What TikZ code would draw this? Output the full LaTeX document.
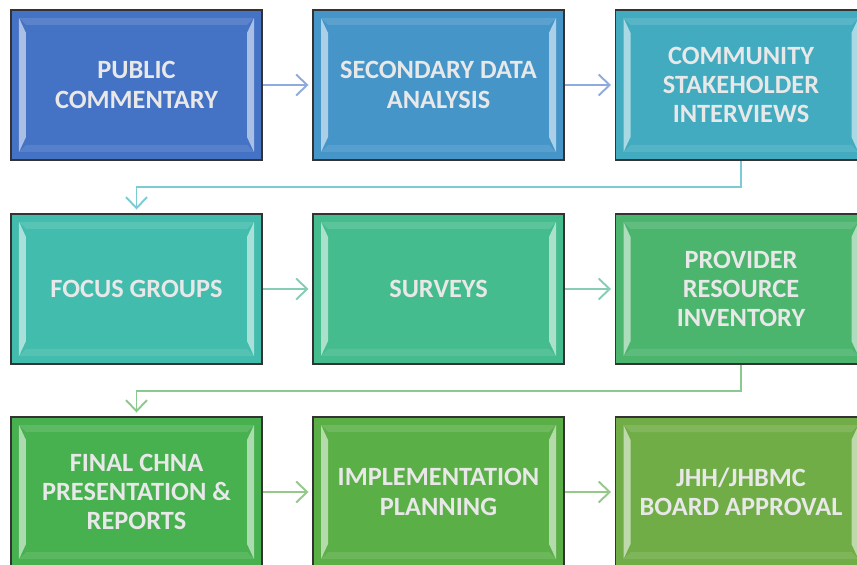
\documentclass[tikz,border=0pt]{standalone}
\usepackage{fontspec}
\setmainfont{Carlito}
\usepackage{tikz}
\usetikzlibrary{arrows.meta,calc}

\definecolor{cA}{HTML}{4472C4}
\definecolor{cB}{HTML}{4595C9}
\definecolor{cC}{HTML}{42ABC0}
\definecolor{cD}{HTML}{42BCAC}
\definecolor{cE}{HTML}{45BC8E}
\definecolor{cF}{HTML}{4BB56E}
\definecolor{cG}{HTML}{47B04F}
\definecolor{cH}{HTML}{5BAF47}
\definecolor{cI}{HTML}{70AD47}
\definecolor{labelgrey}{HTML}{E8E8E8}
\definecolor{lineA}{HTML}{8FAADC}
\definecolor{lineB}{HTML}{7CCBD2}
\definecolor{lineC}{HTML}{86CDB3}
\definecolor{lineD}{HTML}{8CC98E}
\definecolor{lineE}{HTML}{94C98A}

\tikzset{
  bevel/.style={path picture={
    \fill[white,opacity=0.55] ($(path picture bounding box.north west)+(0.16,-0.16)$) -- ++(0.14,-0.3)
      -- ($(path picture bounding box.south west)+(0.30,0.46)$) -- ++(-0.14,-0.3) -- cycle;
    \fill[white,opacity=0.55] ($(path picture bounding box.north east)+(-0.16,-0.16)$) -- ++(-0.14,-0.3)
      -- ($(path picture bounding box.south east)+(-0.30,0.46)$) -- ++(0.14,-0.3) -- cycle;
    \fill[white,opacity=0.12] ($(path picture bounding box.north west)+(0.16,-0.16)$) -- ++(0.14,-0.14)
      -- ($(path picture bounding box.north east)+(-0.30,-0.30)$) -- ++(0.14,0.14) -- cycle;
    \fill[white,opacity=0.1] ($(path picture bounding box.south west)+(0.16,0.16)$) -- ++(0.14,0.14)
      -- ($(path picture bounding box.south east)+(-0.30,0.30)$) -- ++(0.14,-0.14) -- cycle;
  }},
  stage/.style={shape=rectangle,draw=black!80,line width=1.1pt,minimum width=5.02cm,minimum height=3cm,
    inner sep=0pt,align=center,text=labelgrey,font=\bfseries\fontsize{15}{16.6}\selectfont,fill=#1,bevel},
  flow/.style={draw=#1,line width=1.1pt,-{Straight Barb[length=0.22cm,width=0.42cm,line width=1.1pt]},shorten >=2pt},
}

\begin{document}
\begin{tikzpicture}
\useasboundingbox (0,0) rectangle (17.14,11.28);

% first row
\path (2.73,9.58) node (pubcom) [stage=cA] {PUBLIC\\COMMENTARY};
\path (8.77,9.58) node (secdata) [stage=cB] {SECONDARY DATA\\ANALYSIS};
\path (14.82,9.58) node (stakeint) [stage=cC] {COMMUNITY\\STAKEHOLDER\\INTERVIEWS};

% second row
\path (2.73,5.50) node (focus) [stage=cD] {FOCUS GROUPS};
\path (8.77,5.50) node (surveys) [stage=cE] {SURVEYS};
\path (14.82,5.50) node (provinv) [stage=cF] {PROVIDER\\RESOURCE\\INVENTORY};

% third row
\path (2.73,1.44) node (finrep) [stage=cG] {FINAL CHNA\\PRESENTATION \&\\REPORTS};
\path (8.77,1.44) node (implan) [stage=cH] {IMPLEMENTATION\\PLANNING};
\path (14.82,1.44) node (board) [stage=cI] {JHH/JHBMC\\BOARD APPROVAL};

\draw [flow=lineA] (pubcom) to (secdata);
\draw [flow=lineA] (secdata) to (stakeint);
\draw [flow=lineB] (stakeint.south) -- ++(0,-0.52) -| (focus.north);
\draw [flow=lineC] (focus) to (surveys);
\draw [flow=lineC] (surveys) to (provinv);
\draw [flow=lineD] (provinv.south) -- ++(0,-0.52) -| (finrep.north);
\draw [flow=lineE] (finrep) to (implan);
\draw [flow=lineE] (implan) to (board);
\end{tikzpicture}
\end{document}
